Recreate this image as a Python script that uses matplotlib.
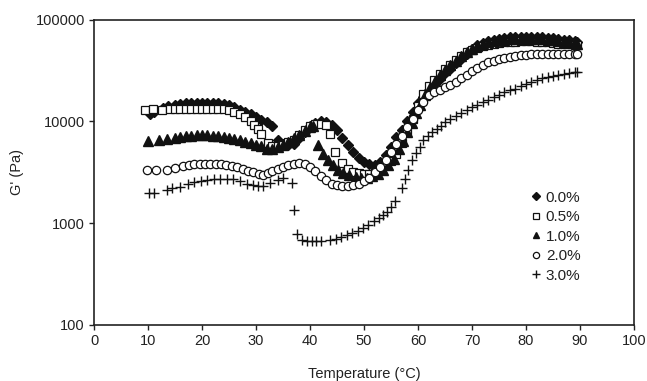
import matplotlib
matplotlib.use("Agg")
import matplotlib.pyplot as plt
from matplotlib.ticker import FixedLocator, NullLocator, FixedFormatter

plt.rcParams['font.family'] = ['Liberation Sans', 'DejaVu Sans']

# ---- data ----
T_00 = [10.4, 11.2, 12.8, 13.7, 15, 16, 17, 18, 19, 20, 21, 22, 23, 24, 25, 26, 27, 28, 29, 30,
        31, 32, 33, 34, 35, 36, 37, 38, 39, 40, 41, 42, 43, 44, 45, 46, 47, 48, 49, 50,
        51, 52, 53, 54, 55, 56, 57, 58, 59, 60, 61, 62, 63, 64, 65, 66, 67, 68, 69, 70,
        71, 72, 73, 74, 75, 76, 77, 78, 79, 80, 81, 82, 83, 84, 85, 86, 87, 88, 89, 89.5]
G_00 = [11900, 12300, 13600, 14000, 14500, 14800, 15000, 15100, 15200, 15200, 15200, 15100, 15000, 14800, 14500, 13800, 13000, 12300, 11700, 11000,
        10400, 9800, 9000, 6600, 6000, 5800, 6000, 6800, 7900, 8900, 9600, 10000, 9900, 9300, 8200, 6900, 5800, 4950, 4350, 3950,
        3800, 3750, 4000, 4700, 5600, 7000, 8300, 10000, 12300, 15000, 17500, 20500, 23000, 26000, 29500, 33000, 37000, 41000, 46000, 51000,
        56000, 59000, 61500, 63500, 65000, 66000, 67000, 67500, 68000, 68000, 68000, 67500, 67000, 66500, 65500, 64500, 63500, 62500, 61000, 60000]

T_05 = [9.4, 11, 12.5, 14, 15, 16, 17, 18, 19, 20, 21, 22, 23, 24, 25, 26, 27, 28, 29, 29.6,
        30.3, 31, 32.2, 33, 34, 35, 36, 37, 38, 39, 40, 41, 42, 43, 43.7, 44.6, 46, 47, 48, 49,
        50, 51, 52, 53, 54, 55, 56, 57, 58, 59, 60, 61, 62, 63, 64, 65, 66, 67, 68, 69,
        70, 71, 72, 73, 74, 75, 76, 77, 78, 79, 80, 81, 82, 83, 84, 85, 86, 87, 88, 89, 89.5]
G_05 = [12800, 13100, 13000, 13100, 13200, 13300, 13300, 13300, 13300, 13300, 13300, 13200, 13200, 13100, 12800, 12400, 11700, 11000, 10000, 9300,
        8500, 7500, 6100, 5700, 5700, 5900, 6200, 6500, 7300, 8300, 9000, 9500, 9500, 9300, 7500, 5000, 3900, 3400, 3200, 3100,
        3050, 3050, 3150, 3300, 3700, 4100, 4800, 6100, 7800, 10500, 14000, 18500, 22000, 25500, 29000, 32500, 36000, 40000, 44000, 47500,
        50500, 53000, 55000, 56500, 57500, 58500, 59500, 60000, 60500, 61000, 61000, 61000, 60500, 60000, 59500, 59000, 58000, 57500, 57000, 56500, 56000]

T_10 = [10, 12, 13.5, 15, 16, 17, 18, 19, 20, 21, 22, 23, 24, 25, 26, 27, 28, 29, 30, 31,
        32, 33, 34, 35, 36, 37, 38, 39, 40, 40.6, 41.5, 42.4, 43.3, 44.3, 45.2, 46.2, 47.3, 48.5, 49.5, 50.5,
        51.5, 52.5, 53.5, 54.5, 55.5, 56.5, 57.3, 58, 58.8, 59.6, 60.4, 61.3, 62.2, 63.1, 64, 65, 66, 67, 68, 69,
        70, 71, 72, 73, 74, 75, 76, 77, 78, 79, 80, 81, 82, 83, 84, 85, 86, 87, 88, 89, 89.5]
G_10 = [6400, 6500, 6700, 6900, 7000, 7100, 7200, 7300, 7300, 7300, 7200, 7100, 7000, 6900, 6700, 6500, 6300, 6100, 5900, 5700,
        5400, 5300, 5600, 5900, 6300, 6800, 7400, 8100, 8800, 9000, 5800, 4800, 4200, 3700, 3300, 3100, 2950, 2850, 2800, 2800,
        2900, 3050, 3300, 3700, 4300, 5300, 6400, 7800, 9600, 12000, 14500, 18000, 21500, 25000, 28500, 32000, 35500, 39500, 43500, 47500,
        51500, 55000, 57500, 59500, 61000, 62500, 63500, 64000, 64500, 65000, 65000, 65000, 64500, 64000, 63500, 62500, 61500, 60500, 59500, 58500, 58000]

T_20 = [9.8, 11.5, 13.5, 15, 16.5, 17.5, 18.5, 19.6, 20.5, 21.5, 22.5, 23.5, 24.5, 25.5, 26.5, 27.5, 28.5, 29.5, 30.5, 31.3,
        32.2, 33, 34, 35, 36, 37, 38, 39, 40, 41, 42, 43, 44, 45, 46, 47, 48, 49, 50, 51,
        52, 53, 54, 55, 56, 57, 58, 59, 60, 61, 62, 63, 64, 65, 66, 67, 68, 69, 70, 71,
        72, 73, 74, 75, 76, 77, 78, 79, 80, 81, 82, 83, 84, 85, 86, 87, 88, 89, 89.5]
G_20 = [3300, 3300, 3350, 3500, 3650, 3750, 3850, 3850, 3850, 3850, 3850, 3800, 3750, 3650, 3550, 3400, 3250, 3150, 3050, 3000,
        3100, 3250, 3400, 3600, 3750, 3850, 3900, 3850, 3600, 3250, 2900, 2650, 2450, 2350, 2300, 2300, 2350, 2450, 2600, 2750,
        3200, 3600, 4200, 5000, 6000, 7200, 8700, 10500, 13000, 15500, 18000, 19500, 20500, 21500, 23000, 24500, 26500, 28500, 31000, 33500,
        36000, 38000, 39500, 40500, 41500, 42500, 43500, 44500, 45000, 45500, 46000, 46000, 46000, 46000, 46000, 46000, 46000, 46000, 45500]

T_30 = [10.2, 11.2, 13.5, 14.4, 16, 17.4, 18.6, 19.8, 21, 22.2, 23.4, 24.6, 25.8, 27, 28.3, 29.4, 30.4, 31.3, 32.6, 34,
        35, 36.7, 37.1, 37.6, 38.5, 39.4, 40.3, 41.2, 42.1, 43.7, 44.8, 45.8, 46.8, 47.8, 48.8, 49.8, 50.8, 51.8, 52.7, 53.5,
        54.3, 55, 55.7, 57, 57.6, 58.2, 58.9, 59.6, 60.3, 61, 61.8, 62.6, 63.5, 64.3, 65, 66, 67, 68, 69, 70,
        71, 72, 73, 74, 75, 76, 77, 78, 79, 80, 81, 82, 83, 84, 85, 86, 87, 88, 89, 89.5]
G_30 = [2000, 2000, 2100, 2230, 2270, 2430, 2550, 2620, 2680, 2720, 2740, 2740, 2720, 2600, 2450, 2350, 2330, 2330, 2500, 2650,
        2780, 2500, 1360, 790, 690, 670, 665, 665, 670, 680, 700, 730, 760, 800, 840, 890, 960, 1040, 1120, 1200,
        1300, 1450, 1660, 2200, 2700, 3300, 4200, 4900, 5600, 6500, 7200, 7800, 8500, 9100, 9800, 10500, 11300, 12200, 13000, 13800,
        14600, 15400, 16300, 17300, 18300, 19200, 20100, 21000, 22000, 23200, 24400, 25500, 26500, 27300, 28000, 28600, 29200, 29700, 30200, 30500]

labels = ['0.0%', '0.5%', '1.0%', '2.0%', '3.0%']
x_ticks = [0, 10, 20, 30, 40, 50, 60, 70, 80, 90, 100]
y_ticks = [100, 1000, 10000, 100000]
y_tick_labels = ['100', '1000', '10000', '100000']

# ---- plot ----
fig = plt.figure(figsize=(6.47, 3.81), dpi=100)
ax = fig.add_axes([0.1453, 0.147, 0.8346, 0.8018])

ink = '#111111'
ax.plot(T_00, G_00, linestyle='none', marker='D', ms=5.2, mfc=ink, mec=ink, label=labels[0])
ax.plot(T_05, G_05, linestyle='none', marker='s', ms=6.3, mfc='white', mec=ink, mew=0.9, label=labels[1])
ax.plot(T_10, G_10, linestyle='none', marker='^', ms=6.5, mfc=ink, mec=ink, label=labels[2])
ax.plot(T_20, G_20, linestyle='none', marker='o', ms=6.0, mfc='white', mec=ink, mew=0.9, label=labels[3])
ax.plot(T_30, G_30, linestyle='none', marker='+', ms=7.5, mec=ink, mew=1.0, label=labels[4])

ax.set_yscale('log')
ax.set_xlim(0, 100)
ax.set_ylim(100, 100000)
ax.xaxis.set_major_locator(FixedLocator(x_ticks))
ax.yaxis.set_major_locator(FixedLocator(y_ticks))
ax.yaxis.set_major_formatter(FixedFormatter(y_tick_labels))
ax.yaxis.set_minor_locator(NullLocator())
ax.xaxis.set_minor_locator(NullLocator())

txt = '#222222'
ax.tick_params(axis='both', direction='out', length=3.5, width=1.0, colors=txt, labelsize=10.5, pad=3)
for s in ax.spines.values():
    s.set_linewidth(1.2)
    s.set_color('#222222')

ax.set_xlabel('Temperature (°C)', fontsize=10.5, color=txt, labelpad=14)
ax.set_ylabel("G' (Pa)", fontsize=10.5, color=txt, labelpad=8)

leg = ax.legend(loc='upper left', bbox_to_anchor=(0.807, 0.440), frameon=False, fontsize=11,
                handlelength=0.8, handletextpad=0.25, labelspacing=0.36, borderpad=0, borderaxespad=0,
                markerscale=0.75)
for t in leg.get_texts():
    t.set_color(txt)

fig.savefig('out.png', dpi=100)
